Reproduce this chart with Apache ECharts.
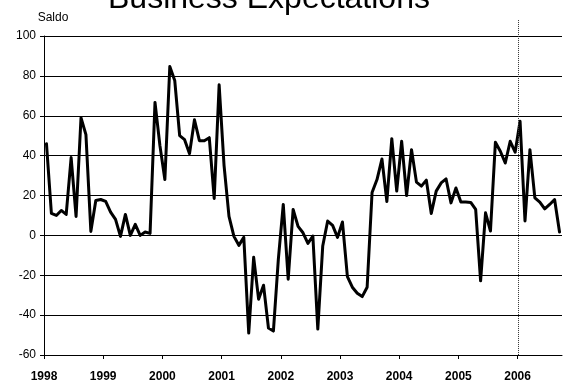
<!DOCTYPE html>
<html>
<head>
<meta charset="utf-8">
<script src="https://cdn.jsdelivr.net/npm/echarts@6/dist/echarts.min.js"></script>
<style>
  html, body { margin: 0; padding: 0; background: #ffffff; }
  #chart { width: 564px; height: 383px; }
</style>
</head>
<body>
<div id="chart"></div>
<script>
// Monthly business-expectations balance ("Saldo"), January 1998 onwards
const startYear = 1998;
const yearTicks = ['1998', '1999', '2000', '2001', '2002', '2003', '2004', '2005', '2006'];
const markerYear = 2006;

const saldo = [
  46, 11, 10, 12.5, 10.5, 39, 9.5, 59, 50.5, 2, 17.5, 18,          // 1998
  17, 11.7, 8, -0.5, 10.5, 0, 5.5, 0, 1.7, 1, 66.7, 45,            // 1999
  28, 84.7, 77.7, 50, 48, 41, 58, 47.5, 47.5, 49, 18.5, 75.5,      // 2000
  35, 9.5, -0.5, -5, -1, -49, -11, -32, -25, -46.5, -48, -12,      // 2001
  15.5, -22, 13, 4.5, 1.3, -4, -0.3, -47, -5.3, 7.2, 5, -1,        // 2002
  6.7, -20.7, -26, -29, -30.7, -26, 21.5, 28, 38.3, 17, 48.5, 22.2, // 2003
  47.2, 20, 43, 26.7, 24.7, 27.7, 11, 22.2, 26.3, 28.3, 16.3, 23.8, // 2004
  16.7, 16.7, 16.5, 13, -22.8, 11.3, 2.2, 46.7, 42.2, 36.3, 47.2, 41.7, // 2005
  57.2, 7.2, 43, 18.8, 16.7, 13.3, 15.5, 18, 1.7                   // 2006
];

// each month sits in the middle of its slot on a continuous year axis
const points = saldo.map((v, i) => [startYear + (i + 0.5) / 12, v]);
const endYear = startYear + saldo.length / 12;

const chart = echarts.init(document.getElementById('chart'), null, { renderer: 'canvas' });

chart.setOption({
  animation: false,
  backgroundColor: '#ffffff',
  textStyle: { fontFamily: 'Liberation Sans, Arial, sans-serif', color: '#000' },
  title: {
    text: 'Business Expectations',
    left: 103,
    top: -22,
    textStyle: { fontFamily: 'Liberation Sans, Arial, sans-serif', fontSize: 32, fontWeight: 'normal', color: '#000' }
  },
  grid: { left: 44, right: 2, top: 36, bottom: 27, containLabel: false },
  xAxis: {
    type: 'value',
    min: startYear,
    max: endYear,
    interval: 1,
    axisLine: { show: true, onZero: false, lineStyle: { color: '#000', width: 1 } },
    axisTick: { show: true, length: 4, lineStyle: { color: '#000' } },
    splitLine: { show: false },
    axisLabel: {
      margin: 16,
      fontSize: 12,
      fontWeight: 'bold',
      color: '#000',
      fontFamily: 'Liberation Sans, Arial, sans-serif',
      showMaxLabel: false,
      formatter: v => {
        const k = Math.round(v - startYear);
        return Math.abs(v - startYear - k) < 1e-6 && yearTicks[k] ? yearTicks[k] : '';
      }
    }
  },
  yAxis: {
    type: 'value',
    min: -60,
    max: 100,
    interval: 20,
    name: 'Saldo',
    nameLocation: 'end',
    nameGap: 12,
    nameTextStyle: { fontSize: 12, color: '#000', padding: [0, 0, 0, 18] },
    axisLine: { show: true, lineStyle: { color: '#000', width: 1 } },
    axisTick: { show: true, length: 4, lineStyle: { color: '#000' } },
    axisLabel: { fontSize: 12, color: '#000', margin: 8 },
    splitLine: { show: true, lineStyle: { color: '#000', width: 1 } }
  },
  series: [{
    type: 'line',
    data: points,
    showSymbol: false,
    clip: false,
    lineStyle: { color: '#000', width: 3, join: 'round', cap: 'round' }
  }]
});

// dotted marker at the start of the latest year, running a little above the plot
const mx = Math.round(chart.convertToPixel({ xAxisIndex: 0 }, markerYear)) + 0.5;
const yBottom = chart.convertToPixel({ yAxisIndex: 0 }, -60);
const yTop = chart.convertToPixel({ yAxisIndex: 0 }, 108);
chart.setOption({
  graphic: [{
    type: 'line',
    silent: true,
    z: 10,
    shape: { x1: mx, y1: yTop, x2: mx, y2: yBottom },
    style: { stroke: '#333', lineWidth: 1, lineDash: [1, 1] }
  }]
});
</script>
</body>
</html>
